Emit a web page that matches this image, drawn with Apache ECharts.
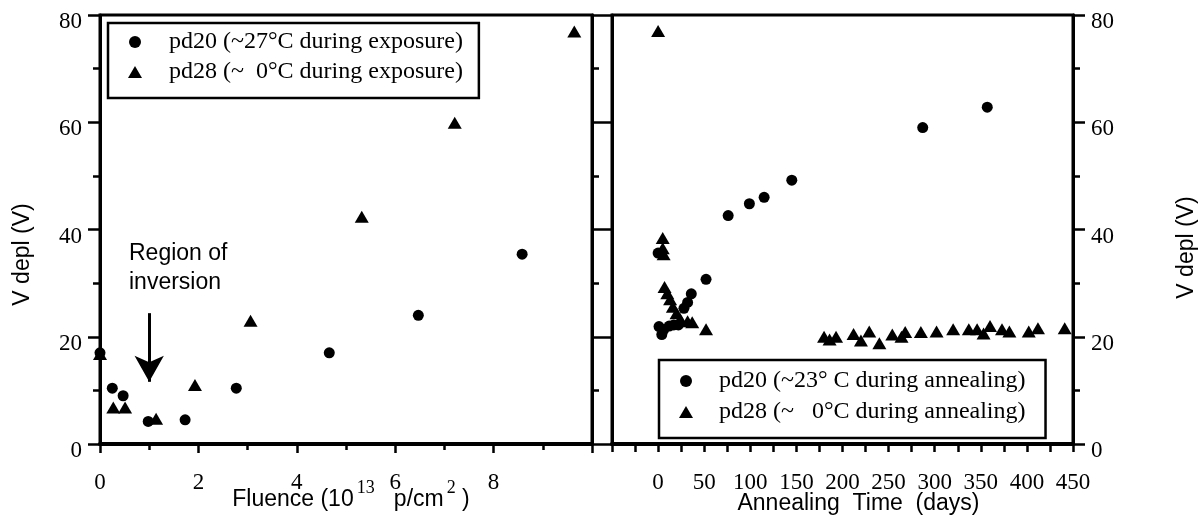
<!DOCTYPE html>
<html>
<head>
<meta charset="utf-8">
<script src="https://cdn.jsdelivr.net/npm/echarts@6/dist/echarts.min.js"></script>
<style>
html,body{margin:0;padding:0;background:#fff;}
#chart{width:1199px;height:522px;}
</style>
</head>
<body>
<div id="chart"></div>
<script>
// ---- Data ----
// Left panel: fluence (10^13 p/cm^2) vs V depl (V)
var fluencePd20 = [[0,17.0],[0.25,10.4],[0.47,9.0],[0.98,4.2],[1.73,4.5],[2.77,10.4],[4.66,17.0],[6.47,24.0],[8.58,35.4]];
var fluencePd28 = [[0,16.8],[0.27,6.8],[0.51,6.8],[1.14,4.7],[1.93,11.0],[3.06,23.0],[5.32,42.4],[7.21,59.9],[9.64,76.9]];
// Right panel: annealing time (days) vs V depl (V)
var annealPd20 = [[0,35.6],[1,21.9],[4,20.4],[6,21.3],[12,22.0],[17,22.2],[22,22.2],[28,25.3],[32,26.4],[36,28.0],[52,30.7],[76,42.6],[99,44.8],[115,46.0],[145,49.2],[287,59.0],[357,62.8]];
var annealPd28 = [[0,77.0],[5,38.4],[5,36.5],[6,35.4],[7,29.3],[10,28.1],[13,27.0],[16,25.6],[20,24.4],[24,23.3],[32,22.9],[37,22.7],[52,21.4],
  [180,20.0],[186,19.5],[193,20.0],[212,20.5],[220,19.3],[229,21.0],[240,18.8],[254,20.4],[264,20.0],[268,20.9],[285,20.9],[302,21.0],[320,21.4],[337,21.4],[346,21.4],[353,20.6],[360,22.0],[373,21.4],[381,21.0],[402,21.0],[412,21.6],[441,21.6]];
var arrowLine = [[1.0,24.4],[1.0,11.6]];
// Names / labels
var leftNames = ['pd20 (~27°C during exposure)', 'pd28 (~  0°C during exposure)'];
var rightNames = ['pd20 (~23° C during annealing)', 'pd28 (~   0°C during annealing)'];
var yTitle = 'V depl (V)';
var xTitleLeft = 'Fluence (10{sup|13}   p/cm{sup|2} )';
var xTitleRight = 'Annealing  Time  (days)';
var annotation = 'Region of\ninversion';

var serif = 'Liberation Serif';
var sans = 'Liberation Sans';
var black = '#000';
var tickRich = {s:{fontFamily:serif, fontSize:23, color:black}, sy:{fontFamily:serif, fontSize:23, color:black, padding:[14,0,0,0]}};

function yLabel(show){
  return {show:show, color:black, fontFamily:serif, fontSize:23, margin:18,
    formatter:function(v){return '{sy|' + v + '}';}, rich:tickRich};
}

function yAxisBase(extra){
  var o = {
    type:'value', min:0, max:80, interval:20,
    axisLine:{show:true, onZero:false, lineStyle:{color:black,width:3}},
    axisTick:{show:true, inside:false, length:12, lineStyle:{color:black,width:2.5}},
    minorTick:{show:true, splitNumber:2, length:7, lineStyle:{color:black,width:2.5}},
    splitLine:{show:false},
    axisLabel:yLabel(false)
  };
  for (var k in extra) o[k] = extra[k];
  return o;
}

var chart = echarts.init(document.getElementById('chart'), null, {renderer:'canvas'});
var option = {
  animation:false,
  backgroundColor:'#fff',
  textStyle:{fontFamily:serif},
  grid:[
    {left:100, top:15, right:607, bottom:78, containLabel:false, outerBoundsMode:'none', show:true, borderColor:black, borderWidth:3, backgroundColor:'transparent'},
    {left:612, top:15, right:126, bottom:78, containLabel:false, outerBoundsMode:'none', show:true, borderColor:black, borderWidth:3, backgroundColor:'transparent'}
  ],
  xAxis:[
    {type:'value', gridIndex:0, min:0, max:10, interval:2,
      axisLine:{show:true, onZero:false, lineStyle:{color:black,width:4}},
      axisTick:{show:true, length:9, lineStyle:{color:black,width:2.5}},
      minorTick:{show:true, splitNumber:2, length:6, lineStyle:{color:black,width:2.5}},
      splitLine:{show:false},
      axisLabel:{color:black, fontFamily:serif, fontSize:23, margin:27, rich:tickRich,
        formatter:function(v){return v===10?'':'{s|' + v + '}';}},
      name:xTitleLeft, nameLocation:'middle', nameGap:35, nameMoveOverlap:false,
      nameTextStyle:{color:black, fontFamily:sans, fontSize:23, padding:[0,0,0,10],
        rich:{sup:{fontFamily:serif, fontSize:18, verticalAlign:'top', padding:[0,0,23,3], color:black}}}
    },
    {type:'value', gridIndex:1, min:-50, max:450, interval:50,
      axisLine:{show:true, onZero:false, lineStyle:{color:black,width:4}},
      axisTick:{show:true, length:8, lineStyle:{color:black,width:2.5}},
      minorTick:{show:true, splitNumber:2, length:8, lineStyle:{color:black,width:2.5}},
      splitLine:{show:false},
      axisLabel:{color:black, fontFamily:serif, fontSize:23, margin:27, rich:tickRich,
        formatter:function(v){return v<0?'':'{s|' + v + '}';}},
      name:xTitleRight, nameLocation:'middle', nameGap:48, nameMoveOverlap:false,
      nameTextStyle:{color:black, fontFamily:sans, fontSize:23, padding:[0,0,0,32]}
    }
  ],
  yAxis:[
    yAxisBase({gridIndex:0, position:'left',
      axisLabel:yLabel(true),
      name:yTitle, nameLocation:'middle', nameGap:66, nameMoveOverlap:false,
      nameTextStyle:{color:black, fontFamily:sans, fontSize:23, padding:[0,50,0,0]}}),
    yAxisBase({gridIndex:0, position:'right'}),
    yAxisBase({gridIndex:1, position:'left', axisTick:{show:true, length:10, lineStyle:{color:black,width:2.5}}, minorTick:{show:false}}),
    yAxisBase({gridIndex:1, position:'right',
      axisLabel:yLabel(true),
      name:yTitle, nameLocation:'middle', nameGap:102, nameRotate:90, nameMoveOverlap:false,
      nameTextStyle:{color:black, fontFamily:sans, fontSize:23, padding:[0,36,0,0]}})
  ],
  legend:[
    {left:108, top:23, orient:'vertical', data:leftNames, itemWidth:14, itemHeight:12, itemGap:6,
      padding:[7,16,14,20], borderColor:black, borderWidth:2.5, selectedMode:false,
      textStyle:{color:black, fontFamily:serif, fontSize:24, lineHeight:24, padding:[0,0,0,22]}},
    {left:659, top:360, orient:'vertical', data:rightNames, itemWidth:14, itemHeight:12, itemGap:7,
      padding:[9,20,14,20], borderColor:black, borderWidth:2.5, selectedMode:false,
      textStyle:{color:black, fontFamily:serif, fontSize:24, lineHeight:24, padding:[0,0,0,21]}}
  ],
  graphic:[
    {type:'text', left:129, top:239, silent:true,
      style:{text:annotation, fill:black, font:"23px 'Liberation Sans', Arial, sans-serif", lineHeight:29}}
  ],
  series:[
    {name:leftNames[0], type:'scatter', xAxisIndex:0, yAxisIndex:0, data:fluencePd20, symbol:'circle', symbolSize:11,
      itemStyle:{color:black, opacity:1},
      markLine:{silent:true, symbol:['none','arrow'], symbolSize:[22,26], animation:false,
        lineStyle:{color:black, width:3, type:'solid'}, label:{show:false},
        data:[[{coord:arrowLine[0]},{coord:arrowLine[1]}]]}},
    {name:leftNames[1], type:'scatter', xAxisIndex:0, yAxisIndex:0, data:fluencePd28, symbol:'triangle', symbolSize:[14,12],
      itemStyle:{color:black, opacity:1}},
    {name:rightNames[0], type:'scatter', xAxisIndex:1, yAxisIndex:2, data:annealPd20, symbol:'circle', symbolSize:11,
      itemStyle:{color:black, opacity:1}},
    {name:rightNames[1], type:'scatter', xAxisIndex:1, yAxisIndex:2, data:annealPd28, symbol:'triangle', symbolSize:[14,12],
      itemStyle:{color:black, opacity:1}}
  ]
};
chart.setOption(option);
</script>
</body>
</html>
